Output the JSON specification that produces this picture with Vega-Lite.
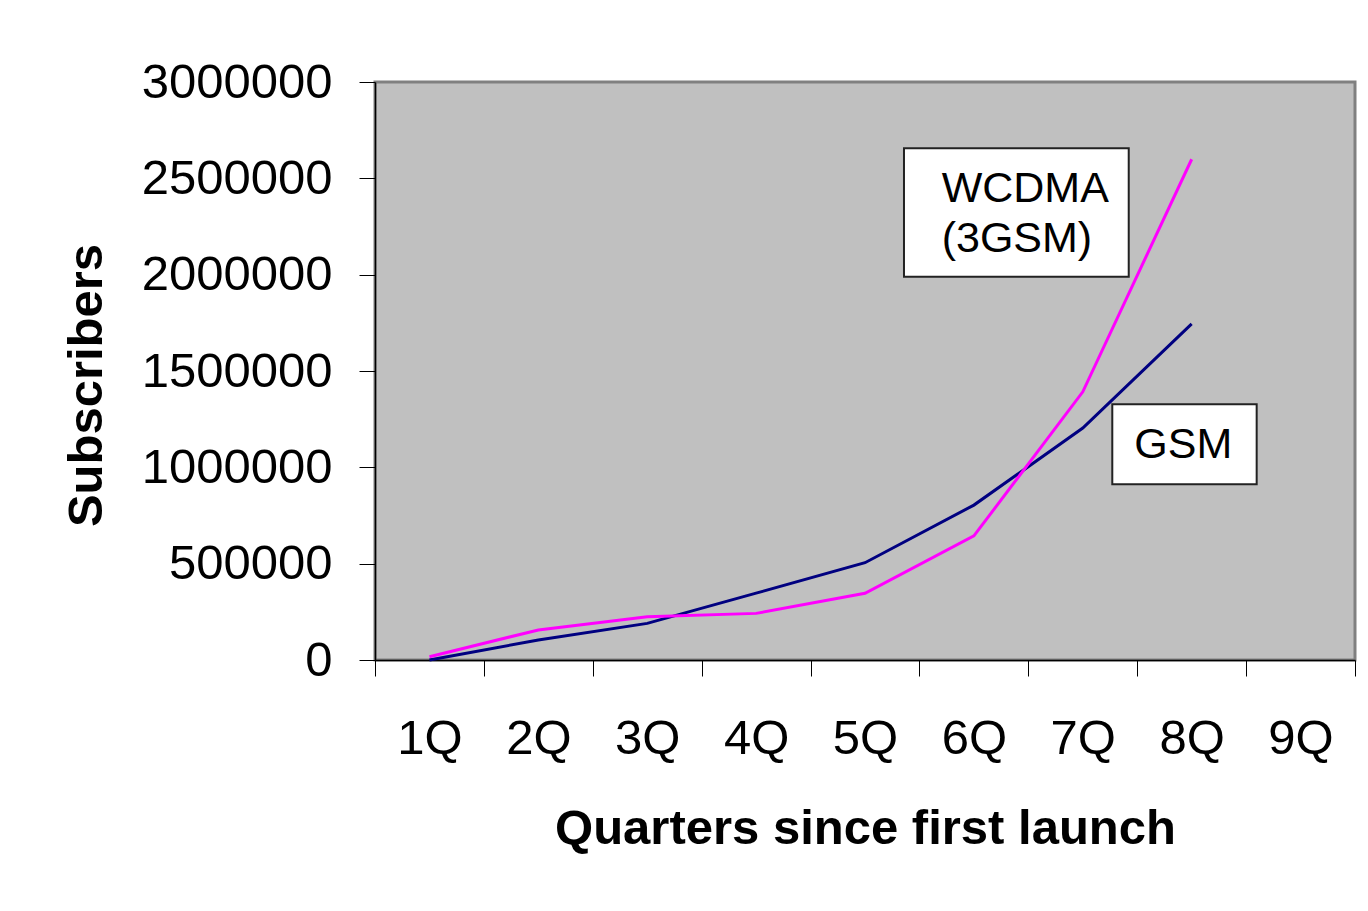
{
  "$schema": "https://vega.github.io/schema/vega-lite/v6.json",
  "width": 980,
  "height": 578,
  "autosize": {"type": "none"},
  "padding": {"left": 375, "top": 82, "right": 13, "bottom": 251},
  "background": "white",
  "config": {
    "font": "Liberation Sans",
    "view": {"fill": "#C0C0C0", "stroke": "#808080", "strokeWidth": 3}
  },
  "datasets": {
    "series": [
      {"quarter": 1, "series": "GSM", "subscribers": 0},
      {"quarter": 2, "series": "GSM", "subscribers": 104000},
      {"quarter": 3, "series": "GSM", "subscribers": 190000},
      {"quarter": 4, "series": "GSM", "subscribers": 347000},
      {"quarter": 5, "series": "GSM", "subscribers": 505000},
      {"quarter": 6, "series": "GSM", "subscribers": 804000},
      {"quarter": 7, "series": "GSM", "subscribers": 1204000},
      {"quarter": 8, "series": "GSM", "subscribers": 1745000},
      {"quarter": 1, "series": "WCDMA (3GSM)", "subscribers": 17000},
      {"quarter": 2, "series": "WCDMA (3GSM)", "subscribers": 156000},
      {"quarter": 3, "series": "WCDMA (3GSM)", "subscribers": 225000},
      {"quarter": 4, "series": "WCDMA (3GSM)", "subscribers": 242000},
      {"quarter": 5, "series": "WCDMA (3GSM)", "subscribers": 346000},
      {"quarter": 6, "series": "WCDMA (3GSM)", "subscribers": 644000},
      {"quarter": 7, "series": "WCDMA (3GSM)", "subscribers": 1392000},
      {"quarter": 8, "series": "WCDMA (3GSM)", "subscribers": 2599000}
    ],
    "boxes": [
      {"label": "WCDMA", "quarter": 5.358, "quarter2": 7.422, "subscribers": 1989500, "subscribers2": 2655900},
      {"label": "GSM", "quarter": 7.271, "quarter2": 8.597, "subscribers": 911900, "subscribers2": 1327200}
    ],
    "labels": [
      {"text": "WCDMA", "quarter": 5.704, "subscribers": 2378800},
      {"text": "(3GSM)", "quarter": 5.704, "subscribers": 2119200},
      {"text": "GSM", "quarter": 7.473, "subscribers": 1046900}
    ]
  },
  "encoding": {
    "x": {
      "field": "quarter",
      "type": "quantitative",
      "scale": {"domain": [0.5, 9.5], "nice": false, "zero": false},
      "axis": {
        "values": [0.5, 1, 1.5, 2, 2.5, 3, 3.5, 4, 4.5, 5, 5.5, 6, 6.5, 7, 7.5, 8, 8.5, 9, 9.5],
        "labelExpr": "datum.value % 1 == 0 ? datum.value + 'Q' : ''",
        "tickOpacity": {"condition": {"test": "datum.value % 1 != 0", "value": 1}, "value": 0},
        "tickSize": 16,
        "tickColor": "black",
        "domainColor": "black",
        "domainWidth": 1.5,
        "labelFontSize": 49,
        "labelColor": "black",
        "labelPadding": 38,
        "labelOverlap": false,
        "labelFlush": false,
        "labelLimit": 0,
        "grid": false,
        "title": "Quarters since first launch",
        "titleFontSize": 49,
        "titleFontWeight": "bold",
        "titleColor": "black",
        "titlePadding": 41
      }
    },
    "y": {
      "field": "subscribers",
      "type": "quantitative",
      "scale": {"domain": [0, 3000000], "nice": false},
      "axis": {
        "values": [0, 500000, 1000000, 1500000, 2000000, 2500000, 3000000],
        "format": "d",
        "tickSize": 16,
        "tickColor": "black",
        "domainColor": "black",
        "domainWidth": 1.5,
        "labelFontSize": 49,
        "labelColor": "black",
        "labelPadding": 27,
        "labelOverlap": false,
        "labelFlush": false,
        "labelLimit": 0,
        "grid": false,
        "title": "Subscribers",
        "titleFontSize": 49,
        "titleFontWeight": "bold",
        "titleColor": "black",
        "titlePadding": 64,
        "titleY": 303
      }
    }
  },
  "layer": [
    {
      "data": {"name": "boxes"},
      "mark": {"type": "rect", "fill": "white", "stroke": "#222222", "strokeWidth": 2},
      "encoding": {
        "x2": {"field": "quarter2"},
        "y2": {"field": "subscribers2"}
      }
    },
    {
      "data": {"name": "labels"},
      "mark": {"type": "text", "align": "left", "baseline": "alphabetic", "fontSize": 43, "color": "black"},
      "encoding": {
        "text": {"field": "text"}
      }
    },
    {
      "data": {"name": "series"},
      "mark": {"type": "line", "strokeWidth": 3},
      "encoding": {
        "color": {
          "field": "series",
          "type": "nominal",
          "scale": {"domain": ["GSM", "WCDMA (3GSM)"], "range": ["#000080", "#FF00FF"]},
          "legend": null
        }
      }
    }
  ]
}
